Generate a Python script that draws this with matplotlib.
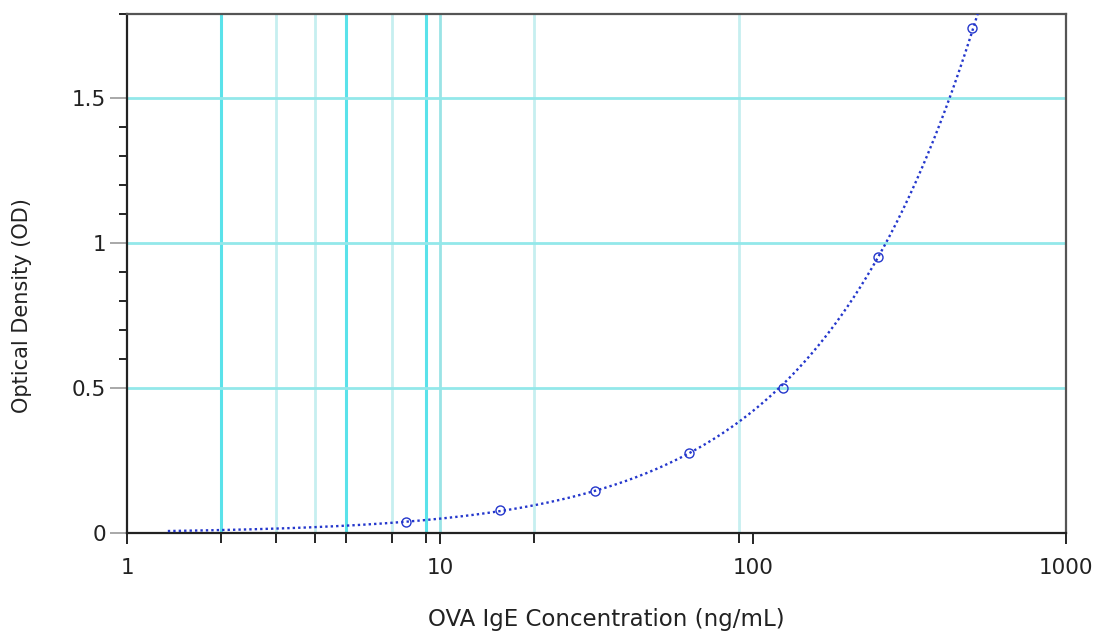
import numpy as np
import matplotlib
matplotlib.use("Agg")
import matplotlib.pyplot as plt

# standard points
conc = [7.8, 15.6, 31.25, 62.5, 125, 250, 500]
od = [0.038, 0.079, 0.145, 0.276, 0.50, 0.952, 1.741]

x_major = [1, 10, 100, 1000]
x_labels = ["1", "10", "100", "1000"]
y_major = [0, 0.5, 1, 1.5]
y_labels = ["0", "0.5", "1", "1.5"]
y_minor = [0.6, 0.7, 0.8, 0.9, 1.1, 1.2, 1.3, 1.4]
grid_strong = [2, 5, 9]
grid_mid = [10]
grid_light = [3, 4, 7, 20, 90]
y_top = 1.79

plt.rcParams["font.family"] = ["DejaVu Sans"]

fig = plt.figure(figsize=(10.97, 6.31), dpi=100)
ax = fig.add_axes([0.1158, 0.1553, 0.8560, 0.8225])
ax.set_xscale("log")
ax.set_xlim(1, 1000)
ax.set_ylim(0, y_top)

for g in grid_light:
    ax.axvline(g, color="#c6eff0", lw=2, zorder=1)
for g in grid_mid:
    ax.axvline(g, color="#9ae4e6", lw=2, zorder=1)
for g in grid_strong:
    ax.axvline(g, color="#5ae2ea", lw=2.2, zorder=1)
for g in y_major[1:]:
    ax.axhline(g, color="#93e8ea", lw=2, zorder=1)

# fitted standard curve (quadratic in log-log)
lx, ly = np.log10(conc), np.log10(od)
coef = np.polyfit(lx, ly, 2)
xs = np.logspace(np.log10(1.35), np.log10(560), 400)
ys = 10 ** np.polyval(coef, np.log10(xs))
ax.plot(xs, ys, color="#2437cc", lw=1.7, ls=(0, (1, 1.3)), zorder=3)
ax.plot(conc, od, "o", ms=6.5, mfc="none", mec="#2437cc", mew=1.0, zorder=4)

ax.set_xticks(x_major)
ax.set_xticklabels(x_labels)
ax.set_xticks(grid_strong + grid_mid + grid_light, minor=True)
ax.xaxis.set_minor_formatter(matplotlib.ticker.NullFormatter())
ax.set_yticks(y_major)
ax.set_yticklabels(y_labels)
ax.set_yticks(y_minor + [y_top], minor=True)
ax.tick_params(axis="x", which="major", length=8, width=1.2, labelsize=15.5, pad=10,
               labelcolor="#222222")
ax.tick_params(axis="x", which="minor", length=7, width=1.2)
ax.tick_params(axis="y", which="major", length=12, width=1.2, color="#999999",
               labelsize=15.5, pad=3, labelcolor="#222222")
ax.tick_params(axis="y", which="minor", length=6, width=1.2)
for s in ax.spines.values():
    s.set_color("#222222")
    s.set_linewidth(1.6)
ax.spines["top"].set_color("#555555")
ax.spines["right"].set_color("#555555")

ax.set_xlabel("OVA IgE Concentration (ng/mL)", fontsize=16.5, va="center", color="#222222")
ax.xaxis.set_label_coords(0.51, -0.166)
ax.set_ylabel("Optical Density (OD)", fontsize=15, va="center", color="#222222")
ax.yaxis.set_label_coords(-0.112, 0.439)

fig.savefig("out.png", dpi=100)
